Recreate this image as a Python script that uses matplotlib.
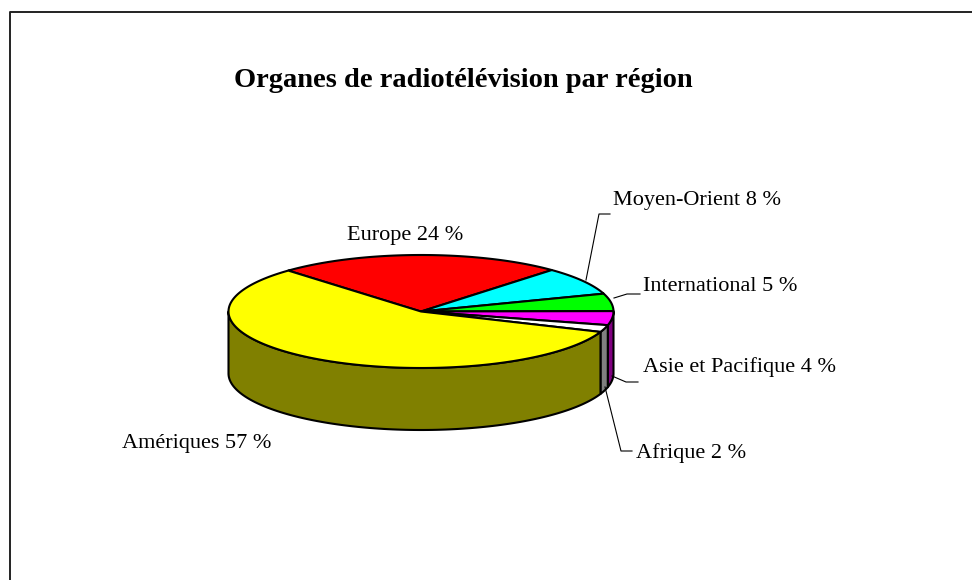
import matplotlib
matplotlib.use("Agg")
import matplotlib.pyplot as plt
from matplotlib.patches import Polygon
import numpy as np

# data, clockwise from the start angle
regions = ["Europe", "Moyen-Orient", "International", "Asie et Pacifique", "Afrique", "Amériques"]
shares = [24, 8, 5, 4, 2, 57]
top_colors = ["#FF0000", "#00FFFF", "#00FF00", "#FF00FF", "#FFFFFF", "#FFFF00"]
side_colors = ["#800000", "#008080", "#008000", "#800080", "#808080", "#808000"]
title = "Organes de radiotélévision par région"

# pie geometry in pixel units
cx, cy = 421, 311.5
rx, ry = 192.5, 56.5
depth = 62
start = 133.6

plt.rcParams['font.family'] = ['Liberation Serif', 'DejaVu Serif']

fig = plt.figure(figsize=(9.72, 5.80), dpi=100)
ax = fig.add_axes([0, 0, 1, 1])
ax.set_xlim(0, 972)
ax.set_ylim(580, 0)
ax.axis("off")

# frame of the chart area
ax.plot([10, 10, 975], [585, 12, 12], color="#222222", lw=1.4, solid_capstyle="butt")


def ell(t, dy=0.0):
    r = np.radians(t)
    return cx + rx * np.cos(r), cy - ry * np.sin(r) + dy


fracs = np.array(shares) / sum(shares)
angles = start - np.concatenate([[0], np.cumsum(fracs)]) * 360

# side walls (front half only: sin < 0, i.e. 180..360 deg)
for i in range(len(shares)):
    a0, a1 = angles[i + 1], angles[i]  # a0 < a1
    for shift in (-360, 0, 360):
        lo = max(a0 + shift, 180)
        hi = min(a1 + shift, 360)
        if hi > lo:
            t = np.linspace(lo, hi, 120)
            xs, ys = ell(t)
            xb, yb = ell(t[::-1], depth)
            pts = np.column_stack([np.concatenate([xs, xb]), np.concatenate([ys, yb])])
            ax.add_patch(Polygon(pts, closed=True, facecolor=side_colors[i],
                                 edgecolor="black", lw=1.5, joinstyle="round"))

# top faces
for i in range(len(shares)):
    t = np.linspace(angles[i], angles[i + 1], 200)
    xs, ys = ell(t)
    pts = np.column_stack([np.concatenate([[cx], xs]), np.concatenate([[cy], ys])])
    ax.add_patch(Polygon(pts, closed=True, facecolor=top_colors[i],
                         edgecolor="black", lw=1.5, joinstyle="round"))

# title
ax.text(463, 87, title, ha="center", va="baseline", fontsize=20.5, fontweight="bold")

# labels
labels = [f"{r} {s} %" for r, s in zip(regions, shares)]
fs = 16
ax.text(347, 240, labels[0], ha="left", va="baseline", fontsize=fs)
ax.text(613, 205, labels[1], ha="left", va="baseline", fontsize=fs)
ax.text(643, 291, labels[2], ha="left", va="baseline", fontsize=fs)
ax.text(643, 372, labels[3], ha="left", va="baseline", fontsize=fs)
ax.text(636, 458, labels[4], ha="left", va="baseline", fontsize=fs)
ax.text(122, 448, labels[5], ha="left", va="baseline", fontsize=fs)

# leader lines
lk = dict(color="black", lw=0.8)
ax.plot([586, 599, 610], [280, 214, 214], **lk)
ax.plot([614, 627, 640], [298, 294, 294], **lk)
ax.plot([612, 626, 638], [376, 382, 382], **lk)
ax.plot([605, 621, 632], [387, 451, 451], **lk)

fig.savefig("out.png", dpi=100)
